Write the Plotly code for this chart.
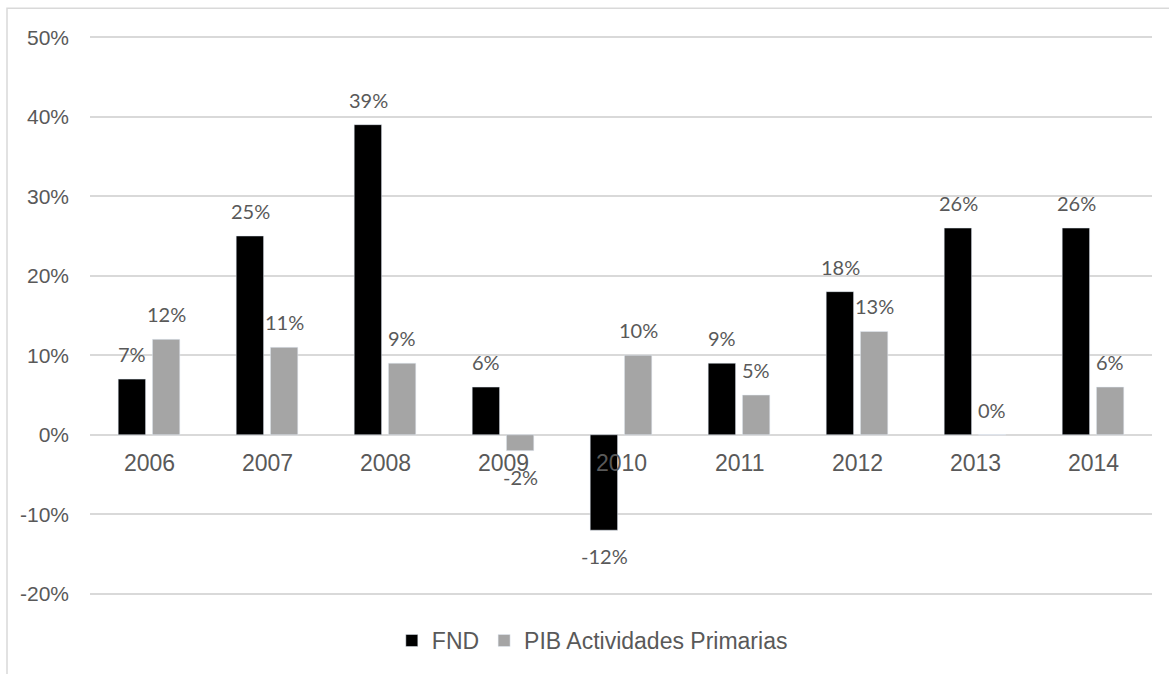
import plotly.graph_objects as go

years = ["2006", "2007", "2008", "2009", "2010", "2011", "2012", "2013", "2014"]
fnd = [7, 25, 39, 6, -12, 9, 18, 26, 26]
pib = [12, 11, 9, -2, 10, 5, 13, 0, 6]
y_ticks = [-20, -10, 0, 10, 20, 30, 40, 50]
y_tick_text = [f"{v}%" for v in y_ticks]

BLACK = "#000000"
GRAY = "#a5a5a5"
TEXT = "#595959"

fig = go.Figure()
fig.add_trace(go.Bar(name="FND", x=years, y=fnd, marker_color=BLACK))
fig.add_trace(go.Bar(name="PIB Actividades Primarias", x=years, y=pib, marker_color=GRAY))

# value labels above (or below, when negative) each bar;
# on the category axis annotations are placed by category index
annotations = []
for series, shift in ((fnd, -17), (pib, 17)):
    for i, v in enumerate(series):
        annotations.append(dict(
            x=i, y=v, xref="x", yref="y", text=f"{v}%", showarrow=False,
            xshift=shift, yshift=-26 if v < 0 else 25,
            font=dict(family="Lato, Open Sans, sans-serif", size=20, color=TEXT),
        ))

# category labels sit just under the zero line
for i, yr in enumerate(years):
    annotations.append(dict(
        x=i, y=0, xref="x", yref="y", text=yr, showarrow=False, yshift=-28,
        font=dict(family="Liberation Sans, Arial, sans-serif", size=23, color=TEXT),
    ))

fig.update_layout(
    width=1169, height=674,
    margin=dict(l=90, r=17, t=36, b=75),
    paper_bgcolor="white", plot_bgcolor="white",
    barmode="group", bargap=0.42, bargroupgap=0.2,
    font=dict(family="Liberation Sans, Arial, sans-serif", color=TEXT, size=21),
    xaxis=dict(type="category", range=[-0.5, len(years) - 0.5], showticklabels=False,
               showgrid=False, zeroline=False, showline=False, ticks=""),
    yaxis=dict(
        range=[-20.15, 50.15], tickvals=y_ticks, ticktext=y_tick_text,
        showgrid=True, gridcolor="#d9d9d9", gridwidth=1.5,
        zeroline=True, zerolinecolor="#d9d9d9", zerolinewidth=1.5,
        tickfont=dict(size=21, color=TEXT), ticks="", ticklabelstandoff=20,
    ),
    legend=dict(
        orientation="h", x=0.473, xanchor="center", y=-0.043, yanchor="top",
        font=dict(size=23, color=TEXT), itemwidth=30,
        traceorder="normal",
    ),
    annotations=annotations,
    shapes=[dict(
        type="rect", xref="paper", yref="paper",
        x0=(7 - 90) / 1062, x1=1.05, y0=-0.2, y1=(599 - 8) / 563,
        line=dict(color="#d9d9d9", width=1.5), fillcolor="rgba(0,0,0,0)", layer="below",
    )],
)

fig.write_html("out.html")
